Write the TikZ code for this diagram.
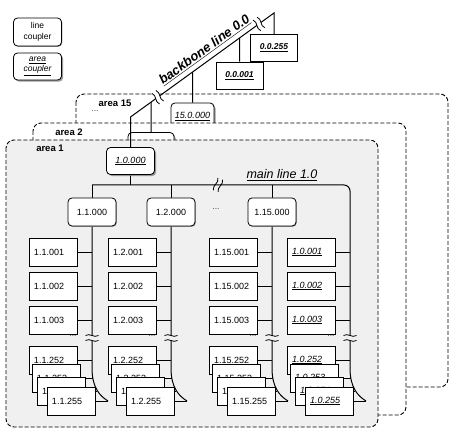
\documentclass[tikz,border=0pt]{standalone}
\usepackage{fontspec}
\setmainfont{Liberation Sans}
\usetikzlibrary{calc,shadows}
\pgfdeclarelayer{areas}
\pgfdeclarelayer{wires}
\pgfsetlayers{areas,wires,main}

\begin{document}
\begin{tikzpicture}[x=1pt, y=-1pt,
    every node/.style={font=\fontsize{9}{10}\selectfont},
    line/.style={line width=1pt},
    area/.style={draw, line width=0.9pt, dash pattern=on 4pt off 2pt, rounded corners=8pt},
    arealabel/.style={font=\fontsize{9.5}{10}\selectfont\bfseries},
    dots/.style={font=\fontsize{8.5}{9}\selectfont, inner sep=0pt, text=black!75},
    dev/.style={draw, fill=white, line width=0.7pt, minimum height=28pt, text width=38pt, inner xsep=5pt, inner ysep=0pt, align=left},
    adev/.style={dev, font=\fontsize{9}{10}\selectfont\itshape},
    bdev/.style={draw, fill=white, line width=0.7pt, minimum width=47pt, minimum height=27pt, inner sep=0pt, font=\fontsize{8.5}{10}\selectfont\bfseries\itshape},
    coup/.style={draw, fill=white, line width=0.8pt, rounded corners=4pt, minimum width=48pt, minimum height=28pt, inner sep=0pt, drop shadow={shadow xshift=0.8pt, shadow yshift=-0.8pt, opacity=0.8}},
    acoup/.style={draw, fill=white, line width=0.8pt, rounded corners=4pt, minimum width=48pt, minimum height=27pt, inner sep=0pt, font=\fontsize{9}{10}\selectfont\itshape, drop shadow={shadow xshift=1.6pt, shadow yshift=-1.6pt, opacity=0.8}},
    pics/brk/.style={code={
      \fill[#1] (-2.5,-6.5) rectangle (2.5,6.5);
      \draw[line width=0.8pt] (-2.5,-6.5) .. controls (0.5,-2) and (-5.5,2) .. (-2.5,6.5);
      \draw[line width=0.8pt] (2.5,-6.5) .. controls (5.5,-2) and (-0.5,2) .. (2.5,6.5);
    }}]

  \useasboundingbox (0,0) rectangle (456,428);

  % legend
  \node[coup, align=center, font=\fontsize{8.5}{11}\selectfont] (leg1) at (37.5,32) {line\\coupler};
  \node[acoup, align=center, font=\fontsize{8.5}{10}\selectfont\itshape] (leg2) at (37.5,66.5) {\underline{area}\\\underline{coupler}};

  % areas, back to front
  \begin{pgfonlayer}{areas}
    \draw[area, fill=white] (76,94) rectangle (448,387);
    \node[acoup, minimum width=43pt] (c150) at (192.5,116.5) {\underline{15.0.000}};
    \draw[area, fill=white] (33,123) rectangle (406,415);
    \node[acoup, minimum width=46pt] (c20) at (151,146) {};
    \draw[area, fill=black!6] (6,140) rectangle (378,427);
  \end{pgfonlayer}
  \node[arealabel] (a15) at (115,103) {area 15};
  \node[dots] (p15) at (95,111) {...};
  \node[arealabel] (a2) at (69,132) {area 2};
  \node[arealabel] (a1) at (50,148) {area 1};

  % backbone devices and area coupler
  \node[bdev] (d255) at (274,48) {\underline{0.0.255}};
  \node[bdev] (d001) at (239.5,75.5) {\underline{0.0.001}};
  \node[acoup] (c10) at (130.5,161) {\underline{1.0.000}};

  % backbone line
  \coordinate (bb0) at (c10.north |- 0,117);
  \coordinate (bb1) at (d255.north |- 0,13);
  \begin{pgfonlayer}{wires}
    \draw[line] (c10.north) -- (bb0) -- (bb1) node[pos=0.56, sloped, above=1pt, font=\fontsize{13}{14}\selectfont\bfseries\itshape] (bbtxt) {\underline{backbone line 0.0}} -- (d255.north);
    \draw[line] (c150.north) -- (intersection of bb0--bb1 and c150.north--c150.south);
    \draw[line] (c20.north) -- (intersection of bb0--bb1 and c20.north--c20.south);
    \draw[line] (d001.north) -- (intersection of bb0--bb1 and d001.north--d001.south);
    \pic[rotate=36] at ($(bb0)!0.19!(bb1)$) {brk=white};
    \pic[rotate=36] at ($(bb0)!0.895!(bb1)$) {brk=white};
  \end{pgfonlayer}

  % line couplers
  \node[coup] (c11) at (92,212) {1.1.000};
  \node[coup] (c12) at (171,212) {1.2.000};
  \node[coup] (c115) at (272,212) {1.15.000};
  \node[dots] (p1) at (216,209) {...};

  % main line
  \coordinate (ml0) at (c11.north |- 0,185);
  \coordinate (ml1) at (350,185);
  \begin{pgfonlayer}{wires}
    \draw[line] (c10.south) -- (c10.south |- ml0);
    \draw[line] (c11.north) -- (ml0);
    \draw[line] (c12.north) -- (c12.north |- ml0);
    \draw[line] (c115.north) -- (c115.north |- ml0);
    \pic[rotate=-20] at (218,185) {brk=black!6};
  \end{pgfonlayer}
  \node[font=\fontsize{12.5}{14}\selectfont\itshape] (mltxt) at (282,175) {\underline{main line 1.0}};

  % devices line 1.1
  \node[dev] (d11a) at (53,252) {1.1.001};
  \node[dev] (d11b) at (53,286) {1.1.002};
  \node[dev] (d11c) at (53,320) {1.1.003};
  \node[dev] (d11w) at (53,360) {1.1.252};
  \node[dev] (d11x) at (56,378) {1.1.253};
  \node[dev] (d11y) at (61,391) {1.1.254};
  \node[dev] (d11z) at (71,401) {1.1.255};
  \node[dots] at (73,336) {...};

  % devices line 1.2
  \node[dev] (d12a) at (132,252) {1.2.001};
  \node[dev] (d12b) at (132,286) {1.2.002};
  \node[dev] (d12c) at (132,320) {1.2.003};
  \node[dev] (d12w) at (132,360) {1.2.252};
  \node[dev] (d12x) at (135,378) {1.2.253};
  \node[dev] (d12y) at (140,391) {1.2.254};
  \node[dev] (d12z) at (150,401) {1.2.255};
  \node[dots] at (152,336) {...};

  % devices line 1.15
  \node[dev] (d115a) at (233,252) {1.15.001};
  \node[dev] (d115b) at (233,286) {1.15.002};
  \node[dev] (d115c) at (233,320) {1.15.003};
  \node[dev] (d115w) at (233,360) {1.15.252};
  \node[dev] (d115x) at (236,378) {1.15.253};
  \node[dev] (d115y) at (241,391) {1.15.254};
  \node[dev] (d115z) at (251,401) {1.15.255};
  \node[dots] at (253,336) {...};

  % devices line 1.0
  \node[adev] (d10a) at (311,252) {\underline{1.0.001}};
  \node[adev] (d10b) at (311,286) {\underline{1.0.002}};
  \node[adev] (d10c) at (311,320) {\underline{1.0.003}};
  \node[adev] (d10w) at (311,360) {\underline{1.0.252}};
  \node[adev] (d10x) at (314,378) {\underline{1.0.253}};
  \node[adev] (d10y) at (319,391) {\underline{1.0.254}};
  \node[adev] (d10z) at (329,401) {\underline{1.0.255}};
  \node[dots] at (331,336) {...};

  % bus lines
  \coordinate (k11a) at (c11 |- 0,368);
  \coordinate (k11e) at ($(k11a)+(16,33)$);
  \coordinate (k12a) at (c12 |- 0,368);
  \coordinate (k12e) at ($(k12a)+(16,33)$);
  \coordinate (k115a) at (c115 |- 0,368);
  \coordinate (k115e) at ($(k115a)+(16,33)$);
  \coordinate (k10a) at (ml1 |- 0,368);
  \coordinate (k10e) at ($(k10a)+(16,33)$);
  \begin{pgfonlayer}{wires}
    \draw[line, rounded corners=6pt] (ml0) -- (ml1) -- (k10a);
    \draw[line] (k10a) .. controls +(0,20) and +(-8,-5) .. (k10e) coordinate[pos=0.25] (k10x) coordinate[pos=0.5] (k10y);
    \draw[line] (c11.south) -- (k11a) .. controls +(0,20) and +(-8,-5) .. (k11e) coordinate[pos=0.25] (k11x) coordinate[pos=0.5] (k11y);
    \draw[line] (c12.south) -- (k12a) .. controls +(0,20) and +(-8,-5) .. (k12e) coordinate[pos=0.25] (k12x) coordinate[pos=0.5] (k12y);
    \draw[line] (c115.south) -- (k115a) .. controls +(0,20) and +(-8,-5) .. (k115e) coordinate[pos=0.25] (k115x) coordinate[pos=0.5] (k115y);

    % connectors line 1.1
    \draw[line] (d11a.east) -- (d11a.east -| c11);
    \draw[line] (d11b.east) -- (d11b.east -| c11);
    \draw[line] (d11c.east) -- (d11c.east -| c11);
    \draw[line] (d11w.east) -- (d11w.east -| c11);
    \draw[line] (d11x.east) -- (d11x.east -| k11x);
    \draw[line] (d11y.east) -- (d11y.east -| k11y);
    \draw[line] (d11z.east) -- (k11e);

    % connectors line 1.2
    \draw[line] (d12a.east) -- (d12a.east -| c12);
    \draw[line] (d12b.east) -- (d12b.east -| c12);
    \draw[line] (d12c.east) -- (d12c.east -| c12);
    \draw[line] (d12w.east) -- (d12w.east -| c12);
    \draw[line] (d12x.east) -- (d12x.east -| k12x);
    \draw[line] (d12y.east) -- (d12y.east -| k12y);
    \draw[line] (d12z.east) -- (k12e);

    % connectors line 1.15
    \draw[line] (d115a.east) -- (d115a.east -| c115);
    \draw[line] (d115b.east) -- (d115b.east -| c115);
    \draw[line] (d115c.east) -- (d115c.east -| c115);
    \draw[line] (d115w.east) -- (d115w.east -| c115);
    \draw[line] (d115x.east) -- (d115x.east -| k115x);
    \draw[line] (d115y.east) -- (d115y.east -| k115y);
    \draw[line] (d115z.east) -- (k115e);

    % connectors line 1.0
    \draw[line] (d10a.east) -- (d10a.east -| ml1);
    \draw[line] (d10b.east) -- (d10b.east -| ml1);
    \draw[line] (d10c.east) -- (d10c.east -| ml1);
    \draw[line] (d10w.east) -- (d10w.east -| ml1);
    \draw[line] (d10x.east) -- (d10x.east -| k10x);
    \draw[line] (d10y.east) -- (d10y.east -| k10y);
    \draw[line] (d10z.east) -- (k10e);

    % breaks in the lines
    \pic[rotate=90] at (c11 |- 0,338) {brk=black!6};
    \pic[rotate=90] at (c12 |- 0,338) {brk=black!6};
    \pic[rotate=90] at (c115 |- 0,338) {brk=black!6};
    \pic[rotate=90] at (ml1 |- 0,338) {brk=black!6};
  \end{pgfonlayer}
\end{tikzpicture}
\end{document}
